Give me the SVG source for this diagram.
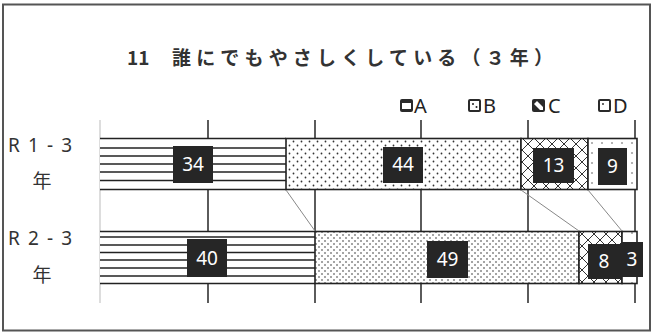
<svg xmlns="http://www.w3.org/2000/svg" width="655" height="333" viewBox="0 0 655 333">
<style>
.grid{stroke:#333;stroke-width:1.6}
.axis{stroke:#bbb;stroke-width:1}
.hl{stroke:#222;stroke-width:1.6}
.seg{stroke:#222;stroke-width:1.6}
.conn{stroke:#888;stroke-width:1;fill:none}
.box{fill:#262626}
.num{font-family:"Noto Sans","Liberation Sans",sans-serif;font-size:19px;fill:#fff;text-anchor:middle}
.lab{font-family:"Noto Sans","Noto Sans CJK JP",sans-serif;font-size:19px;fill:#333}
.leg{font-family:"Noto Sans","Liberation Sans",sans-serif;font-size:20px;fill:#222}
.icon{fill:#2a2a2a}
.ttl{font-family:"Noto Sans CJK JP","Noto Sans",sans-serif;font-size:19px;font-weight:bold;fill:#333}
</style>
<defs>
<pattern id="dotsA" width="8" height="8" patternUnits="userSpaceOnUse">
<rect width="8" height="8" fill="#fff"/>
<circle cx="1.5" cy="1.5" r="0.9" fill="#333"/>
<circle cx="5.5" cy="5.5" r="0.9" fill="#333"/>
</pattern>
<pattern id="dotsB" width="6" height="6" patternUnits="userSpaceOnUse">
<rect width="6" height="6" fill="#fff"/>
<circle cx="1" cy="1" r="0.8" fill="#333"/>
<circle cx="4" cy="4" r="0.8" fill="#333"/>
</pattern>
<pattern id="cross" width="12" height="12" patternUnits="userSpaceOnUse">
<rect width="12" height="12" fill="#fff"/>
<path d="M0,0L12,12M12,0L0,12" stroke="#333" stroke-width="1"/>
</pattern>
<pattern id="dotsD" width="10" height="10" patternUnits="userSpaceOnUse">
<rect width="10" height="10" fill="#fff"/>
<circle cx="2" cy="3" r="0.8" fill="#555"/>
</pattern>
</defs>
<rect x="0" y="0" width="655" height="333" fill="#fff"/>
<rect x="3" y="4.5" width="647" height="326" fill="none" stroke="#555" stroke-width="2"/>

<g id="title">
<text x="127" y="65" class="ttl">11</text>
<text x="172" y="65" class="ttl" textLength="381" lengthAdjust="spacing">誰にでもやさしくしている（３年）</text>
</g>

<g id="legend">
<g id="legend-A">
<rect x="400" y="99" width="13" height="13" rx="2" class="icon"/>
<rect x="402" y="103" width="9" height="6" fill="#fff"/>
<text x="414" y="113" class="leg">A</text>
</g>
<g id="legend-B">
<rect x="468" y="99" width="13" height="13" rx="2" class="icon"/>
<rect x="470" y="101" width="9" height="9" fill="#fff"/>
<circle cx="473" cy="104" r="1" fill="#222"/>
<circle cx="476.5" cy="107" r="1" fill="#222"/>
<text x="483" y="113" class="leg">B</text>
</g>
<g id="legend-C">
<rect x="532" y="99" width="13" height="13" rx="2" class="icon"/>
<path d="M534,104L537,101L543,107L543,110L540,110L534,104Z" fill="#fff"/>
<text x="548" y="113" class="leg">C</text>
</g>
<g id="legend-D">
<rect x="598" y="99" width="13" height="13" rx="2" class="icon"/>
<rect x="600" y="101" width="9" height="9" fill="#fff"/>
<circle cx="603" cy="104" r="0.9" fill="#222"/>
<text x="613" y="113" class="leg">D</text>
</g>
</g>

<g id="gridlines">
<line x1="100" y1="120" x2="100" y2="303" class="axis"/>
<line x1="208" y1="120" x2="208" y2="303" class="grid"/>
<line x1="315" y1="120" x2="315" y2="303" class="grid"/>
<line x1="421" y1="120" x2="421" y2="303" class="grid"/>
<line x1="528" y1="120" x2="528" y2="303" class="grid"/>
<line x1="635" y1="120" x2="635" y2="303" class="grid"/>
</g>

<g id="row-labels">
<text x="8" y="152" class="lab" textLength="64" lengthAdjust="spacing">R 1 - 3</text>
<text x="42" y="188" class="lab" text-anchor="middle">年</text>
<text x="8" y="245" class="lab" textLength="64" lengthAdjust="spacing">R 2 - 3</text>
<text x="42" y="282" class="lab" text-anchor="middle">年</text>
</g>

<g id="bar-R1">
<g id="r1-A">
<rect x="100" y="138" width="186" height="52" fill="#fff"/>
<line x1="100" y1="138.5" x2="286" y2="138.5" class="seg" stroke-width="2"/>
<line x1="100" y1="148" x2="286" y2="148" class="hl"/>
<line x1="100" y1="156" x2="286" y2="156" class="hl"/>
<line x1="100" y1="164" x2="286" y2="164" class="hl"/>
<line x1="100" y1="172" x2="286" y2="172" class="hl"/>
<line x1="100" y1="180.5" x2="286" y2="180.5" class="hl"/>
<line x1="100" y1="189.5" x2="286" y2="189.5" class="seg" stroke-width="2"/>
<rect x="173" y="146" width="40" height="37" class="box"/>
<text x="193" y="171" class="num">34</text>
</g>
<g id="r1-B">
<rect x="286" y="138.5" width="235" height="51" fill="url(#dotsA)" class="seg"/>
<rect x="383" y="147" width="40" height="36" class="box"/>
<text x="403" y="171" class="num">44</text>
</g>
<g id="r1-C">
<rect x="521" y="138.5" width="67" height="51" fill="url(#cross)" class="seg"/>
<rect x="533" y="148" width="41" height="35" class="box"/>
<text x="553.5" y="172" class="num">13</text>
</g>
<g id="r1-D">
<rect x="588" y="138.5" width="49" height="51" fill="url(#dotsD)" class="seg"/>
<rect x="598" y="148" width="29" height="37" class="box"/>
<text x="612.5" y="173" class="num">9</text>
</g>
</g>

<g id="bar-R2">
<g id="r2-A">
<rect x="100" y="231" width="215" height="53" fill="#fff"/>
<line x1="100" y1="231.5" x2="315" y2="231.5" class="seg" stroke-width="2"/>
<line x1="100" y1="237" x2="315" y2="237" class="hl" stroke-width="1"/>
<line x1="100" y1="245" x2="315" y2="245" class="hl"/>
<line x1="100" y1="252.5" x2="315" y2="252.5" class="hl"/>
<line x1="100" y1="260" x2="315" y2="260" class="hl"/>
<line x1="100" y1="268" x2="315" y2="268" class="hl"/>
<line x1="100" y1="276" x2="315" y2="276" class="hl"/>
<line x1="100" y1="283.5" x2="315" y2="283.5" class="seg" stroke-width="2"/>
<rect x="187" y="239" width="40" height="38" class="box"/>
<text x="207" y="265" class="num">40</text>
</g>
<g id="r2-B">
<rect x="315" y="231.5" width="264" height="52" fill="url(#dotsB)" class="seg"/>
<rect x="427" y="241" width="41" height="37" class="box"/>
<text x="447.5" y="266" class="num">49</text>
</g>
<g id="r2-C">
<rect x="579" y="231.5" width="43" height="52" fill="url(#cross)" class="seg"/>
<rect x="588" y="244" width="34" height="35" class="box"/>
<text x="604" y="268" class="num">8</text>
</g>
<g id="r2-D">
<rect x="622" y="231.5" width="15" height="52" fill="url(#dotsD)" class="seg"/>
<rect x="621" y="242" width="22" height="35" class="box"/>
<text x="632" y="266" class="num">3</text>
</g>
</g>

<g id="connectors">
<line x1="286" y1="190" x2="315" y2="231" class="conn"/>
<line x1="521" y1="190" x2="579" y2="231" class="conn"/>
<line x1="588" y1="190" x2="622" y2="231" class="conn"/>
</g>
</svg>
